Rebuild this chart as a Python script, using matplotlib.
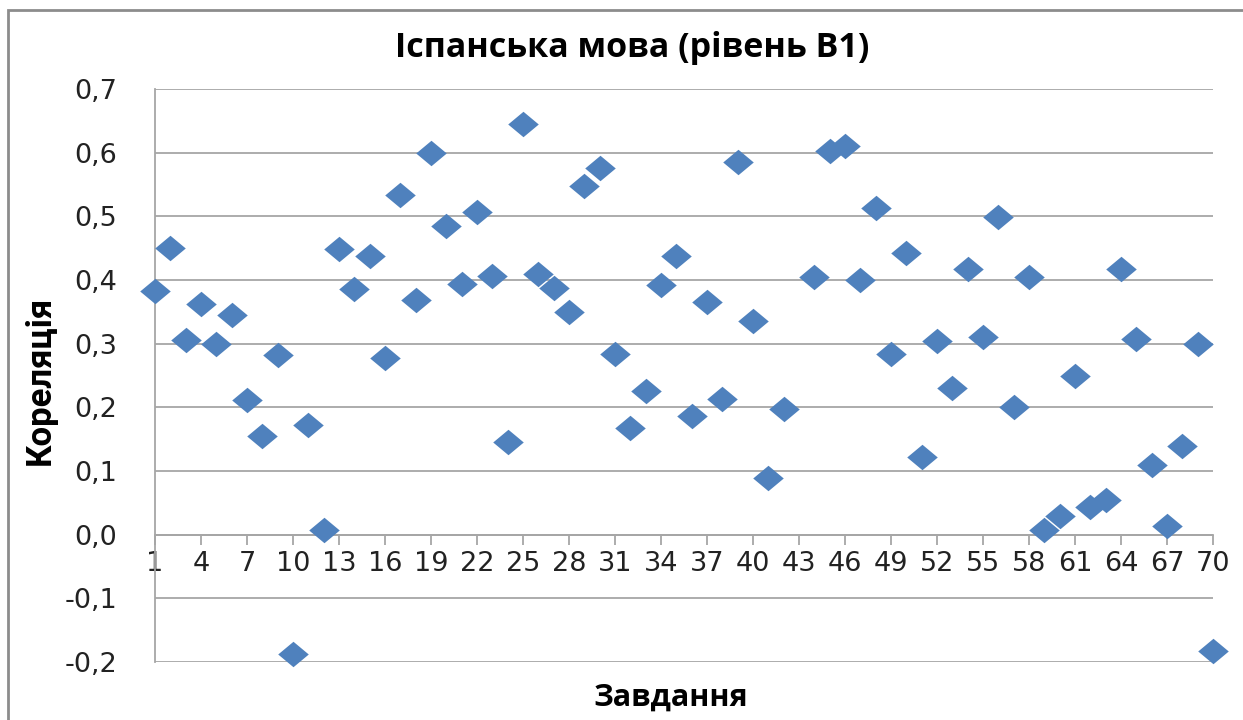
import matplotlib as mpl
mpl.use('Agg')
import matplotlib.pyplot as plt
from matplotlib.patches import Rectangle
import numpy as np

# task number and correlation, task 43 has no value
tasks = list(range(1, 71))
corr = [0.383, 0.450, 0.305, 0.363, 0.299, 0.345, 0.212, 0.155, 0.282, -0.188,
        0.172, 0.008, 0.449, 0.386, 0.437, 0.277, 0.533, 0.369, 0.600, 0.485,
        0.394, 0.507, 0.407, 0.146, 0.645, 0.409, 0.387, 0.350, 0.548, 0.576,
        0.284, 0.167, 0.226, 0.392, 0.438, 0.187, 0.366, 0.213, 0.585, 0.336,
        0.089, 0.198, np.nan, 0.405, 0.603, 0.610, 0.400, 0.513, 0.284, 0.443,
        0.122, 0.304, 0.231, 0.418, 0.310, 0.499, 0.201, 0.404, 0.007, 0.030,
        0.249, 0.044, 0.055, 0.418, 0.307, 0.110, 0.014, 0.139, 0.299, -0.183]
xticks = list(range(1, 71, 3))
yticks = [-0.2, -0.1, 0.0, 0.1, 0.2, 0.3, 0.4, 0.5, 0.6, 0.7]

W, H = 1243, 720
fig = plt.figure(figsize=(W / 100, H / 100), dpi=100)
ax = fig.add_axes([155 / W, 1 - 662 / H, (1213 - 155) / W, (662 - 89) / H])

# chart border (left and top visible)
fig.patches.append(Rectangle((8 / W, -0.1), 1.2, 1 - 10 / H + 0.1,
                             transform=fig.transFigure, fill=False,
                             edgecolor='#8c8c8c', linewidth=2))

diamond = [(-1.2, 0), (0, 1), (1.2, 0), (0, -1), (-1.2, 0)]
ax.plot(tasks, corr, linestyle='none', marker=diamond, markersize=22,
        color='#4f81bd', markeredgewidth=0, clip_on=False, zorder=3)

ax.set_xlim(1, 70)
ax.set_ylim(-0.2, 0.7)
ax.set_yticks(yticks)
ax.set_yticklabels([f'{v:.1f}'.replace('.', ',') for v in yticks],
                   family='DejaVu Sans')
ax.set_xticks(xticks)
ax.set_xticklabels([str(t) for t in xticks], family='DejaVu Sans')

ax.yaxis.grid(True, color='#a6a6a6', linewidth=1.3)
ax.set_axisbelow(True)
for s in ['top', 'right']:
    ax.spines[s].set_visible(False)
ax.spines['bottom'].set_position(('data', 0))
ax.spines['bottom'].set_color('#a6a6a6')
ax.spines['left'].set_color('#a6a6a6')
ax.spines['bottom'].set_linewidth(1.3)
ax.spines['left'].set_linewidth(1.3)

ax.tick_params(axis='y', length=0, pad=27, labelsize=19.5, labelcolor='#222222')
ax.tick_params(axis='x', length=7, width=1.3, color='#a6a6a6', pad=5,
               labelsize=19.5, labelcolor='#222222')

fig.text(632 / W, 1 - 48 / H, 'Іспанська мова (рівень B1)', ha='center', va='center',
         fontsize=24.5, fontweight='bold', family=['Open Sans', 'DejaVu Sans'])
fig.text(671 / W, 1 - 698 / H, 'Завдання', ha='center', va='center',
         fontsize=22, fontweight='bold', family=['Open Sans', 'DejaVu Sans'])
fig.text(40 / W, 1 - 380 / H, 'Кореляція', ha='center', va='center', rotation=90,
         fontsize=25, fontweight='bold', stretch='condensed',
         family=['Liberation Sans Narrow', 'Roboto', 'DejaVu Sans'])

fig.savefig('out.png', dpi=100)
